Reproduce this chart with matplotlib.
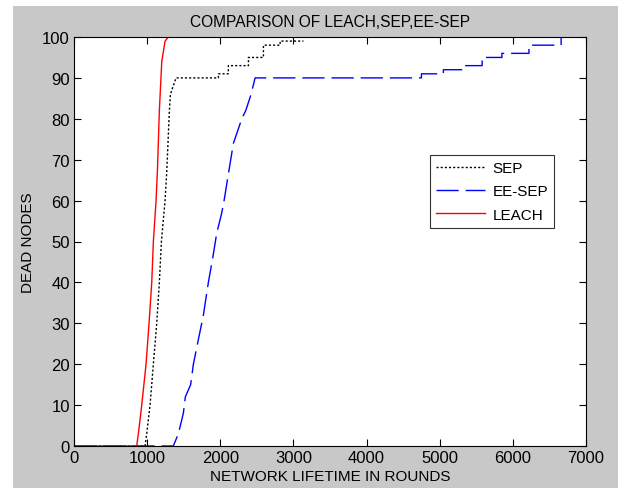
import matplotlib.pyplot as plt
from matplotlib.patches import Rectangle

# values
sep_x = [0, 971, 994, 1040, 1085, 1131, 1167, 1195, 1245, 1268, 1304, 1318, 1395,
         1974, 1974, 2110, 2110, 2385, 2385, 2590, 2590, 2818, 2818, 3137]
sep_y = [0, 0, 3, 10, 20, 30, 40, 50, 60, 67, 82, 86, 90,
         90, 91, 91, 93, 93, 95, 95, 98, 98, 99, 99]

eesep_x = [0, 1358, 1427, 1495, 1522, 1595, 1632, 1700, 1769, 1837, 1897, 1951, 2020,
           2052, 2097, 2179, 2294, 2348, 2421, 2476, 4750, 4750, 5050, 5050, 5308,
           5308, 5580, 5580, 5850, 5850, 6220, 6220, 6660, 6660, 7000]
eesep_y = [0, 0, 3, 8, 12, 15, 20, 26, 32, 40, 46, 52, 57,
           60, 65, 74, 80, 82, 86, 90, 90, 91, 91, 92, 92,
           93, 93, 95, 95, 96, 96, 98, 98, 100, 100]

leach_x = [0, 857, 880, 926, 985, 1026, 1063, 1085, 1122, 1140, 1167, 1200, 1245, 1290, 7000]
leach_y = [0, 0, 3, 10, 20, 30, 40, 50, 60, 67, 82, 94, 99, 100, 100]

xticks = [0, 1000, 2000, 3000, 4000, 5000, 6000, 7000]
yticks = [0, 10, 20, 30, 40, 50, 60, 70, 80, 90, 100]

plt.rcParams['font.family'] = ['Liberation Sans Narrow', 'Liberation Sans', 'DejaVu Sans']

fig = plt.figure(figsize=(6.18, 4.89), dpi=100, facecolor='white')
# grey matlab figure area
fig.patches.append(Rectangle((13 / 618, 0), 1, 1 - 7 / 489, transform=fig.transFigure,
                             facecolor='#c8c8c8', edgecolor='none', zorder=-1))

ax = fig.add_axes([74 / 618, 1 - 447 / 489, 512 / 618, 409 / 489])
ax.set_facecolor('white')

ax.plot(sep_x, sep_y, color='black', lw=1, linestyle=(0, (1.5, 1.5)), label='SEP')
ax.plot(eesep_x, eesep_y, color='blue', lw=1, linestyle=(0, (16, 5)), label='EE-SEP')
ax.plot(leach_x, leach_y, color='red', lw=1, label='LEACH')

ax.set_xlim(0, 7000)
ax.set_ylim(0, 100)
ax.set_xticks(xticks)
ax.set_yticks(yticks)
ax.tick_params(direction='in', length=5, top=True, right=True, labelsize=12, pad=3)
for s in ax.spines.values():
    s.set_linewidth(0.8)

ax.set_title('COMPARISON OF LEACH,SEP,EE-SEP', fontsize=11.2, pad=8)
ax.set_xlabel('NETWORK LIFETIME IN ROUNDS', fontsize=11, labelpad=3)
ax.set_ylabel('DEAD NODES', fontsize=11, labelpad=5)

leg = ax.legend(loc='upper left', bbox_to_anchor=(0.695, 0.711), fontsize=11,
                frameon=True, fancybox=False, edgecolor='black', handlelength=3.2,
                borderaxespad=0, labelspacing=0.6, handletextpad=0.5)
leg.get_frame().set_linewidth(0.8)

fig.savefig('out.png', dpi=100, facecolor=fig.get_facecolor())
